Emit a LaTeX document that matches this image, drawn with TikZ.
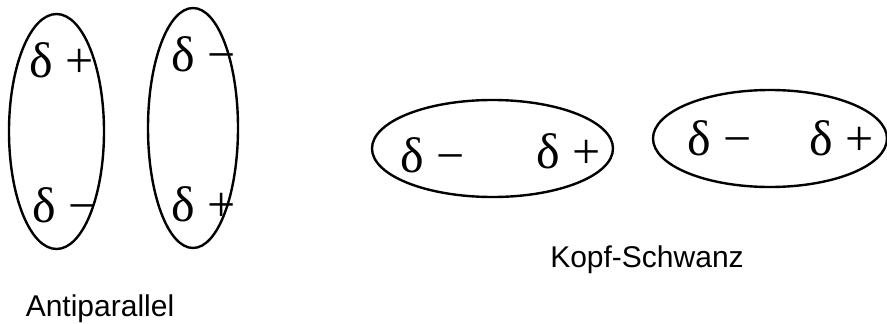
\documentclass[tikz,border=0pt]{standalone}
\usepackage{fontspec}
\setmainfont{Liberation Serif}
\newfontfamily\capfont{Liberation Sans}
\usepackage{tikz}
\usetikzlibrary{shapes.geometric, positioning}
\tikzset{
  dipole/.style={ellipse, draw=black, line width=2.4pt, inner sep=0pt},
  charge/.style={anchor=base west, inner sep=0pt, font=\fontsize{50}{52}\selectfont},
  caption/.style={anchor=base, inner sep=0pt, font=\capfont\fontsize{30}{32}\selectfont}
}

\begin{document}
\begin{tikzpicture}[x=1pt, y=-1pt]
  \useasboundingbox (0,0) rectangle (887,324);

  % --- ANTIPARALLEL ---
  \node[dipole, minimum width=95pt, minimum height=235pt] (ap_a) at (56.5,131.5) {};
  \node[dipole, minimum width=90pt, minimum height=240pt] (ap_b) at (193,128) {};

  \node[charge] (ap_a_top) at (29,77) {δ +};
  \node[charge] (ap_a_bot) at (32,222) {δ −};
  \node[charge] (ap_b_top) at (171,71) {δ −};
  \node[charge] (ap_b_bot) at (171,221) {δ +};

  \node[caption] (ap_cap) at (100,316) {Antiparallel};

  % --- KOPF-SCHWANZ ---
  \node[dipole, minimum width=241pt, minimum height=97pt] (ks_a) at (492.5,148.5) {};
  \node[dipole, minimum width=234pt, minimum height=97pt] (ks_b) at (770,138.5) {};

  \node[charge] (ks_a_neg) at (400,172) {δ −};
  \node[charge] (ks_a_pos) at (536,168) {δ +};
  \node[charge] (ks_b_neg) at (687,155) {δ −};
  \node[charge] (ks_b_pos) at (809,155) {δ +};

  \node[caption] (ks_cap) at (647,267) {Kopf-Schwanz};
\end{tikzpicture}
\end{document}
